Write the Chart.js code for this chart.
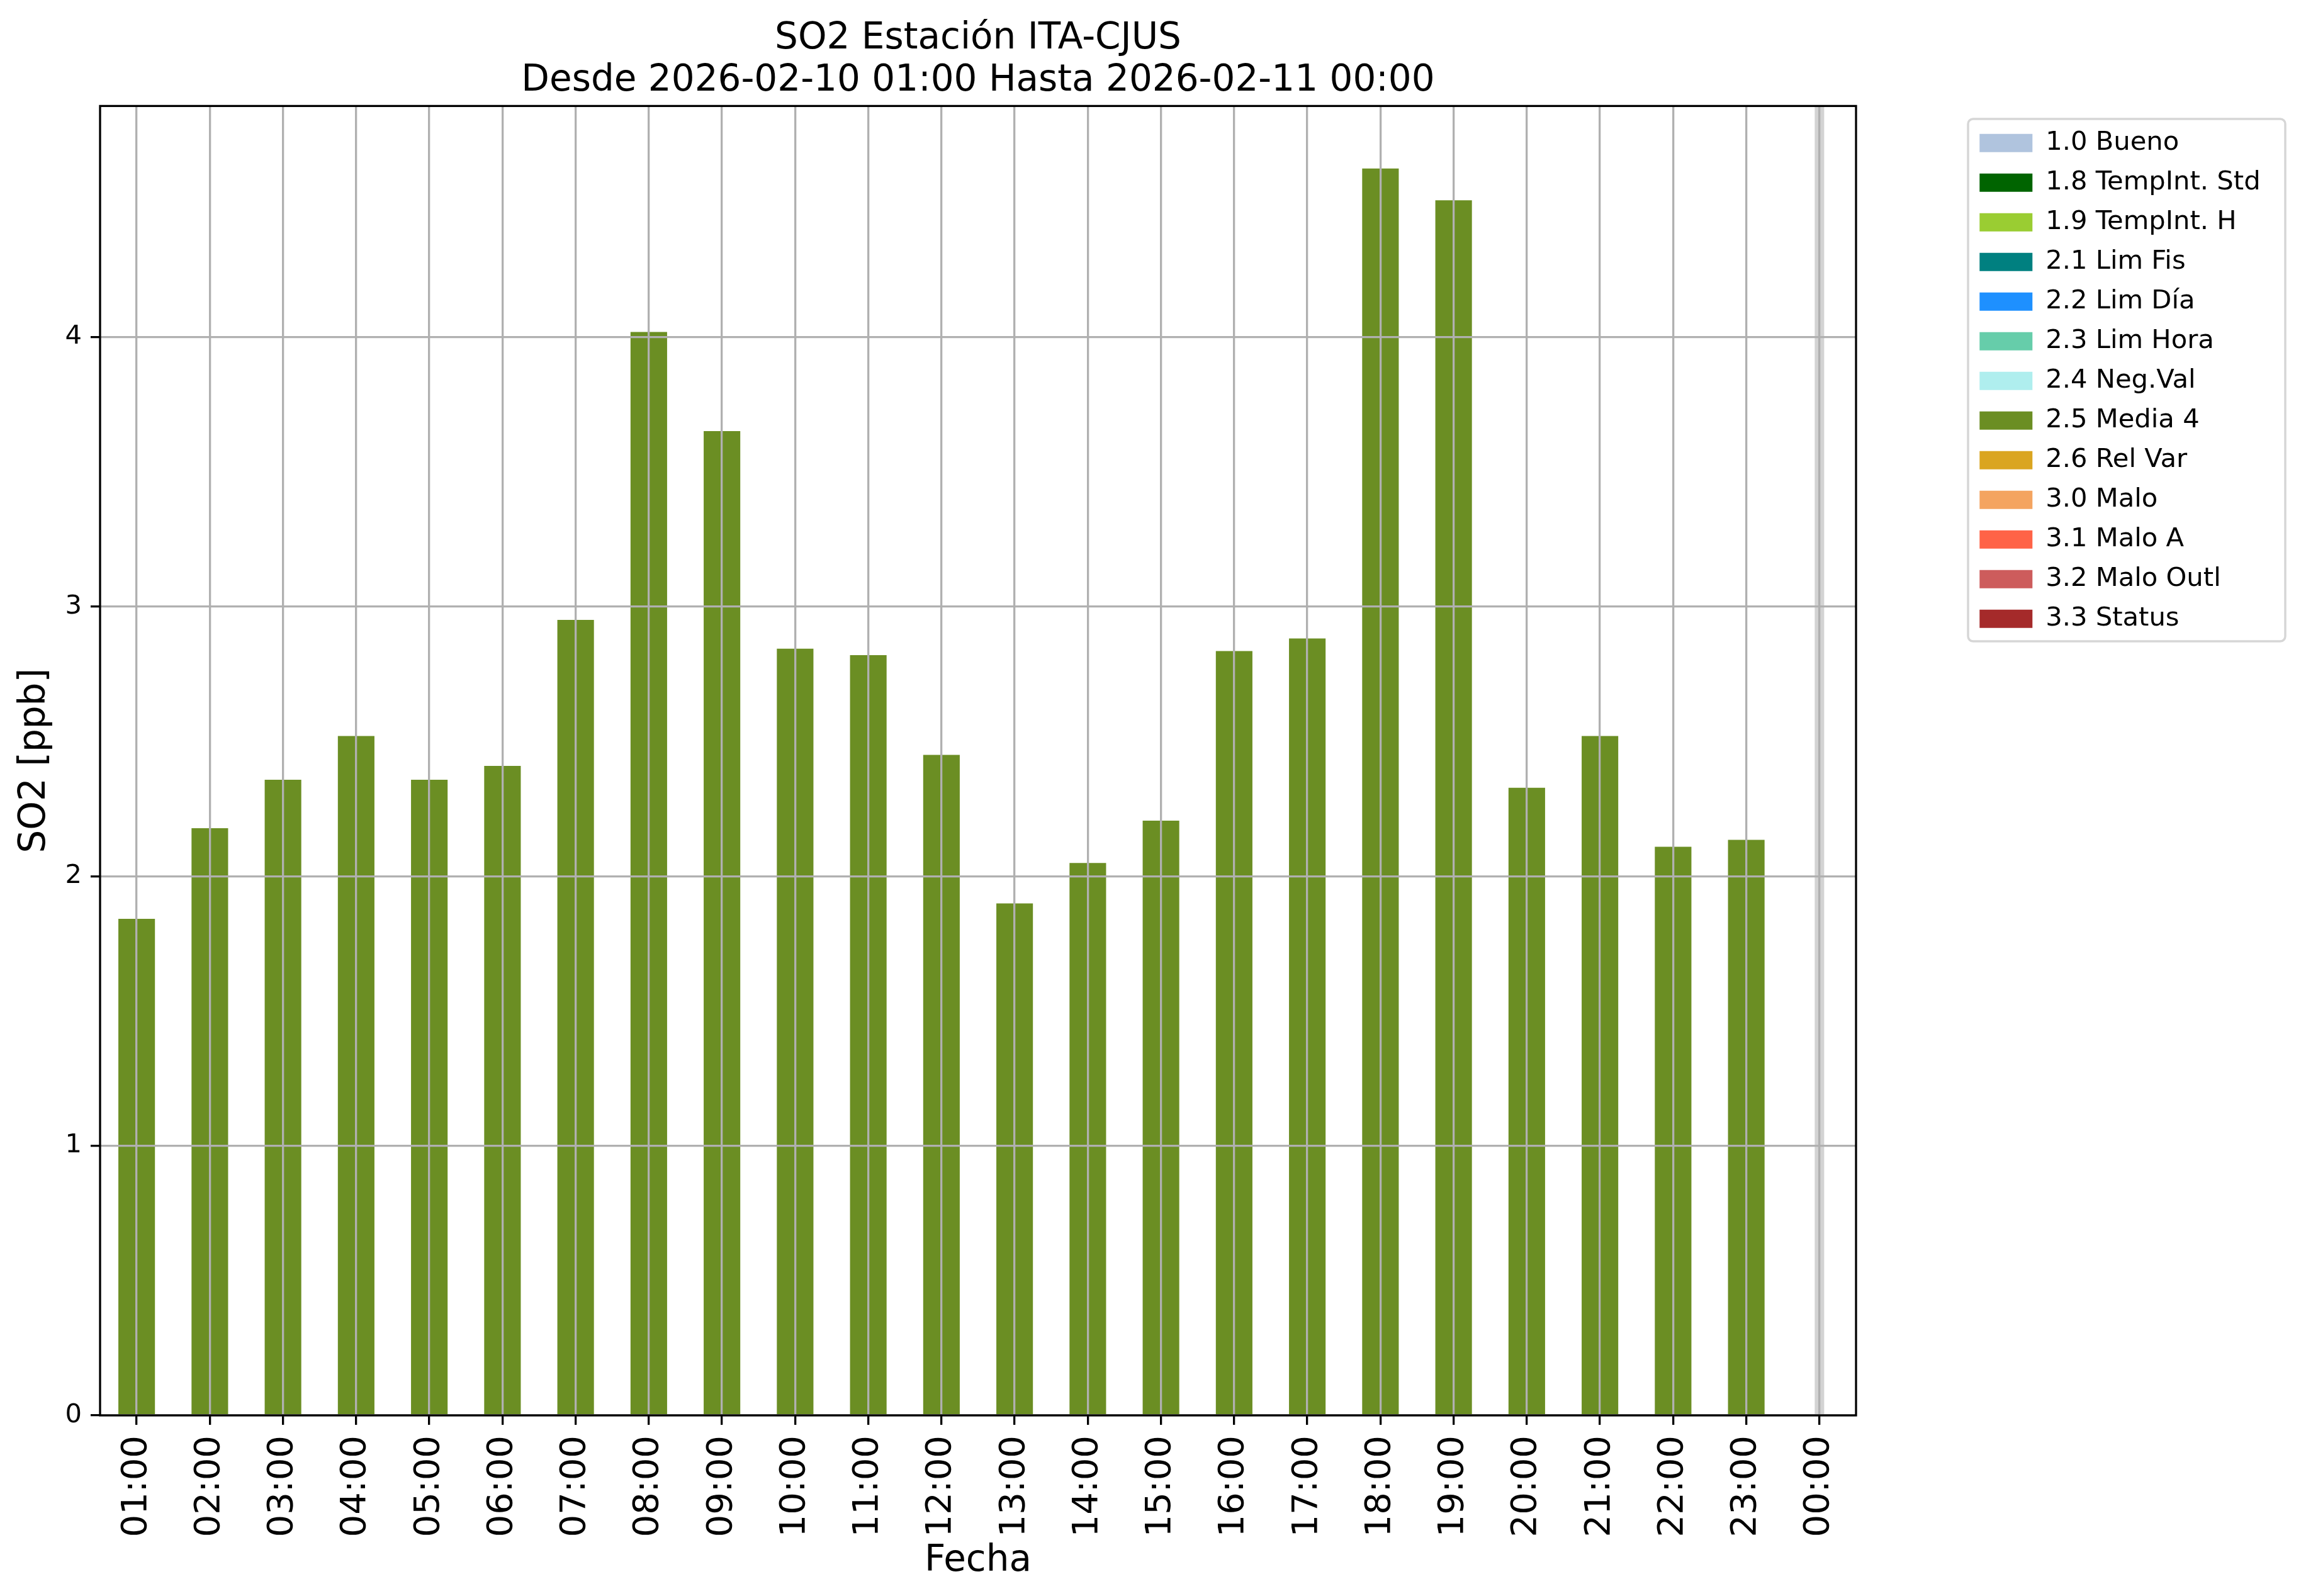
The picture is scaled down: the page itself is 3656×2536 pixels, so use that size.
<!DOCTYPE html>
<html>
<head>
  <meta charset="UTF-8" />
  <title>SO2 Estación ITA-CJUS</title>
  <script src="https://cdn.jsdelivr.net/npm/chart.js"></script>
  <style>
    html, body { margin: 0; padding: 0; background: #fff; }
    canvas { display: block; }
  </style>
</head>
<body>
  <canvas id="so2Chart" width="3656" height="2536"></canvas>

  <script>
    // --- Data ---
    const hours = ['01:00','02:00','03:00','04:00','05:00','06:00','07:00','08:00','09:00','10:00','11:00','12:00',
                   '13:00','14:00','15:00','16:00','17:00','18:00','19:00','20:00','21:00','22:00','23:00','00:00'];
    const media4Values = [1.842, 2.178, 2.358, 2.520, 2.358, 2.409, 2.951, 4.019, 3.651, 2.844, 2.820, 2.450,
                          1.899, 2.049, 2.206, 2.835, 2.882, 4.625, 4.507, 2.328, 2.520, 2.109, 2.135, null];
    const flagLabels = ['1.0 Bueno','1.8 TempInt. Std','1.9 TempInt. H','2.1 Lim Fis','2.2 Lim Día','2.3 Lim Hora',
                        '2.4 Neg.Val','2.5 Media 4','2.6 Rel Var','3.0 Malo','3.1 Malo A','3.2 Malo Outl','3.3 Status'];
    const flagColors = ['#b0c4de','#006400','#9acd32','#008080','#1e90ff','#66cdaa',
                        '#afeeee','#6b8e23','#daa520','#f4a460','#ff6347','#cd5c5c','#a52a2a'];
    const yTicks = [0, 1, 2, 3, 4];
    const yMax = 4.857;
    const markedHour = '00:00';

    const FONT = 'DejaVu Sans';
    const LEGEND_SIZE = 41.7;
    const LEGEND_PAD = 21.3;
    const LEGEND_BOX = 84;
    Chart.defaults.color = '#000';
    Chart.defaults.font.family = FONT;

    // legend sits on the right; its natural width decides where the plot ends
    const mctx = document.createElement('canvas').getContext('2d');
    mctx.font = LEGEND_SIZE + 'px ' + FONT;
    const longest = Math.max(...flagLabels.map(t => mctx.measureText(t).width));
    const legendWidth = LEGEND_PAD + LEGEND_BOX + LEGEND_SIZE / 2 + longest + 10;
    const plotRight = 2949;

    // one dataset per flag, stacked so they share one bar slot
    const datasets = flagLabels.map((label, i) => ({
      label,
      data: label === '2.5 Media 4' ? media4Values : hours.map(() => null),
      backgroundColor: flagColors[i],
      borderColor: flagColors[i],
      borderWidth: 0,
      barPercentage: 0.5,
      categoryPercentage: 1.0
    }));

    // --- Extra drawing: midnight band, frame, legend box ---
    const extras = {
      id: 'extras',
      afterLayout(chart) {
        const lg = chart.legend;
        const w = lg.width, h = lg.height;
        lg.left = 3124; lg.top = 185;
        lg.right = lg.left + w; lg.bottom = lg.top + h;
      },
      beforeDraw(chart) {
        const ctx = chart.ctx;
        const lg = chart.legend;
        ctx.save();
        ctx.globalAlpha = 0.8;
        ctx.strokeStyle = '#cccccc';
        ctx.lineWidth = 3.5;
        ctx.beginPath();
        ctx.roundRect(lg.left + 3, lg.top + 4, 504, 830, 8);
        ctx.stroke();
        ctx.restore();
      },
      beforeDatasetsDraw(chart) {
        const { ctx, chartArea, scales } = chart;
        const x = scales.x.getPixelForValue(hours.indexOf(markedHour));
        ctx.save();
        ctx.fillStyle = '#d3d3d3';
        ctx.fillRect(x - 7.5, chartArea.top, 15, chartArea.bottom - chartArea.top);
        ctx.restore();
      },
      afterDraw(chart) {
        const { ctx, chartArea } = chart;
        ctx.save();
        ctx.strokeStyle = '#000';
        ctx.lineWidth = 3.3;
        ctx.strokeRect(chartArea.left, chartArea.top, chartArea.right - chartArea.left, chartArea.bottom - chartArea.top);
        ctx.restore();
      }
    };

    new Chart(document.getElementById('so2Chart').getContext('2d'), {
      type: 'bar',
      data: { labels: hours, datasets },
      plugins: [extras],
      options: {
        responsive: false,
        animation: false,
        devicePixelRatio: 1,
        layout: { padding: { left: 0, top: 0, right: 3656 - plotRight - legendWidth, bottom: 0 } },
        plugins: {
          title: {
            display: true,
            fullSize: false,
            text: ['SO2 Estación ITA-CJUS', 'Desde 2026-02-10 01:00 Hasta 2026-02-11 00:00'],
            font: { family: FONT, size: 58, weight: 'normal', lineHeight: 1.15 },
            color: '#000',
            padding: { top: 29, bottom: 6 }
          },
          legend: {
            position: 'right',
            align: 'start',
            labels: {
              font: { family: FONT, size: LEGEND_SIZE },
              color: '#000',
              boxWidth: LEGEND_BOX,
              boxHeight: 29,
              padding: LEGEND_PAD
            }
          },
          tooltip: { enabled: false }
        },
        scales: {
          x: {
            stacked: true,
            offset: true,
            grid: { offset: false, color: '#b0b0b0', lineWidth: 3.3, z: 1,
                    tickColor: '#000', tickWidth: 3.3, tickLength: 15 },
            border: { display: false },
            ticks: { font: { family: FONT, size: 56 }, color: '#000', minRotation: 90, maxRotation: 90,
                     autoSkip: false, padding: 17 },
            title: { display: true, text: 'Fecha', font: { family: FONT, size: 58 }, color: '#000',
                     padding: { top: 0, bottom: 20 } },
            afterFit(scale) { scale.height = 287; }
          },
          y: {
            stacked: true,
            min: 0,
            max: yMax,
            grid: { color: '#b0b0b0', lineWidth: 3.3, z: 1,
                    tickColor: '#000', tickWidth: 3.3, tickLength: 15 },
            border: { display: false },
            ticks: { font: { family: FONT, size: 41.7 }, color: '#000', padding: 14 },
            afterBuildTicks(scale) { scale.ticks = yTicks.map(v => ({ value: v })); },
            title: { display: true, text: 'SO2 [ppb]', font: { family: FONT, size: 58 }, color: '#000',
                     padding: { top: 21, bottom: 0 } },
            afterFit(scale) { scale.width = 159; }
          }
        }
      }
    });
  </script>
</body>
</html>
